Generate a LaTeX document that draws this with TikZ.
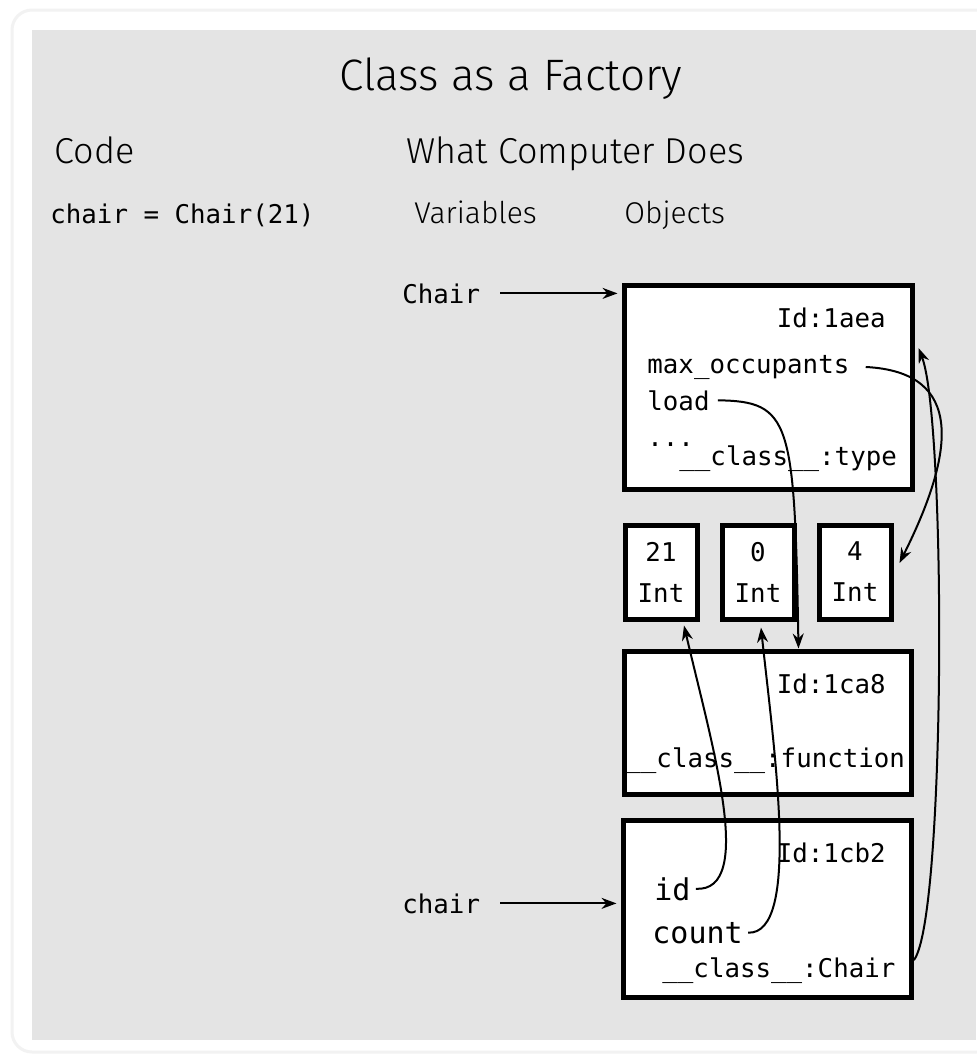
\documentclass[tikz,border=0pt]{standalone}
\usepackage{fontspec}
\usepackage{xcolor}
\usepackage{tikz}
\usetikzlibrary{arrows.meta,positioning}
\setmonofont{DejaVu Sans Mono}
\newfontfamily\headfont{Fira Sans Light}
\definecolor{panelgray}{HTML}{E4E4E4}

\begin{document}
\begin{tikzpicture}[
    x=0.5pt, y=-0.5pt,
    node distance=10pt,
    title/.style={inner sep=0pt, anchor=base, font=\headfont\fontsize{22}{22}\selectfont},
    heading/.style={inner sep=0pt, anchor=base west, font=\headfont\fontsize{18}{18}\selectfont},
    subheading/.style={heading, font=\headfont\fontsize{15}{15}\selectfont},
    code/.style={inner sep=0pt, anchor=base west, font=\ttfamily\fontsize{12.9}{15}\selectfont},
    bigcode/.style={code, font=\ttfamily\fontsize{15}{18}\selectfont},
    obj/.style={draw, line width=2.5pt, fill=white, inner sep=0pt},
    intbox/.style={obj, minimum width=36pt, minimum height=47pt, align=center, font=\ttfamily\fontsize{12.9}{20.5}\selectfont},
    arrow/.style={-{Stealth[length=7.5pt,width=5.5pt]}, line width=1pt}
]
    \useasboundingbox (0,0) rectangle (976,1055);
    \fill[white] (0,0) rectangle (976,1055);
    \draw[black!5, line width=1.5pt, fill=white, rounded corners=10pt] (12,10) rectangle (1010,1052);
    \fill[panelgray] (32,30) rectangle (976,1040);

    \node[title] (title) at (511,90) {Class as a Factory};
    \node[heading] (hcode) at (54,163) {Code};
    \node[heading] (hcomp) at (406,163) {What Computer Does};
    \node[code] (line1) at (50,223) {chair = Chair(21)};
    \node[subheading] (hvars) at (414,223) {Variables};
    \node[subheading] (hobjs) at (624,223) {Objects};

    \node[code] (varClass) at (402,303) {Chair};
    \node[code] (varInst) at (402,913) {chair};

    \node[obj, minimum width=144pt, minimum height=102pt] (obj1) at (768,387) {};
    \node[intbox] (int21) at (661,572) {21\\Int};
    \node[intbox, right=of int21] (int0) {0\\Int};
    \node[intbox, right=of int0] (int4) {4\\Int};
    \node[obj, minimum width=143.5pt, minimum height=71.5pt] (obj2) at (767.5,722.5) {};
    \node[obj, minimum width=144pt, minimum height=88.5pt] (obj3) at (767,908.5) {};

    \node[code, anchor=base east] (id1) at (886,327) {Id:1aea};
    \node[code] (maxocc) at (647,373) {max\_occupants};
    \node[code] (load) at (647,410) {load};
    \node[code] (dots) at (647,446) {...};
    \node[code] (clstype) at (679,465) {\_\_class\_\_:type};

    \node[code, anchor=base east] (id2) at (886,693) {Id:1ca8};
    \node[code] (clsfunc) at (625,767) {\_\_class\_\_:function};

    \node[code, anchor=base east] (id3) at (886,862) {Id:1cb2};
    \node[bigcode] (attrid) at (654,900) {id};
    \node[bigcode] (attrcount) at (652,943) {count};
    \node[code] (clschair) at (662,977) {\_\_class\_\_:Chair};

    \draw[arrow, shorten <=10pt, shorten >=2pt] (varClass.east) -- (varClass.east -| obj1.west);
    \draw[arrow, shorten <=10pt, shorten >=2pt] (varInst.east) -- (varInst.east -| obj3.west);

    \draw[arrow] ([xshift=8pt]maxocc.east) .. controls +(100,5) and +(55,-110) .. ([shift={(6,-9)}]int4.east);
    \draw[arrow] ([xshift=4pt]load.east) .. controls +(73,1) and +(-4,-228) .. ([xshift=15.5pt]obj2.north);
    \draw[arrow] ([xshift=2.5pt]attrid.east) .. controls +(60,3) and +(28,120) .. ([xshift=11.5pt,yshift=-2pt]int21.south);
    \draw[arrow] ([xshift=2.5pt]attrcount.east) .. controls +(53,2) and +(13,122) .. ([xshift=1.5pt,yshift=-3pt]int0.south);
    \draw[arrow] ([shift={(18,-10)}]clschair.east) .. controls +(32,-40) and +(28,72) .. ([shift={(4,-39)}]obj1.east);
\end{tikzpicture}
\end{document}
